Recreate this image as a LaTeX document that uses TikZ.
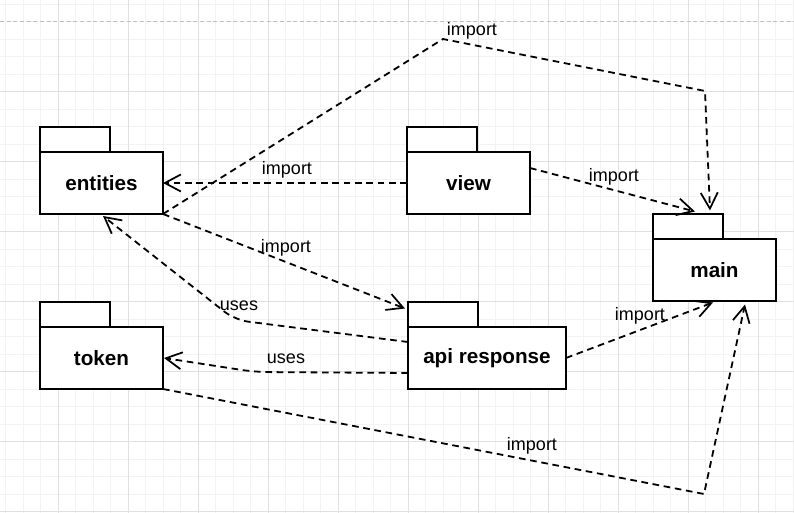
\documentclass[tikz,border=0pt]{standalone}
\usepackage{fontspec}
\setmainfont{Liberation Sans}
\usetikzlibrary{arrows.meta,calc}
\definecolor{gridminor}{HTML}{F3F3F3}
\definecolor{gridmajor}{HTML}{E0E0E0}
\definecolor{pageline}{HTML}{C0C0C0}
\begin{document}
\begin{tikzpicture}[x=0.75pt,y=-0.75pt,
  pkg/.style={draw,line width=1.5pt,fill=white,minimum height=46.5pt,inner sep=0pt,outer sep=0pt,
    font=\fontsize{15.5}{18}\selectfont\bfseries},
  pkgtab/.style={draw,line width=1.5pt,fill=white,minimum width=52.5pt,minimum height=18.75pt,
    inner sep=0pt,outer sep=0pt,anchor=south west},
  dep/.style={line width=1.35pt,dash pattern=on 5pt off 3.5pt,
    -{Straight Barb[length=12pt,width=12.75pt,line width=1.3pt]}},
  lbl/.style={font=\fontsize{13.5}{16}\selectfont,inner sep=0pt}]
\useasboundingbox (0,0) rectangle (794,513);
\fill[white] (0,0) rectangle (794,513);
% grid
\foreach \k in {0,...,45} {
  \draw[gridminor,line width=0.75pt] (5.8+17.5*\k,0) -- (5.8+17.5*\k,513);
}
\foreach \k in {0,...,29} {
  \draw[gridminor,line width=0.75pt] (0,4.5+17.5*\k) -- (794,4.5+17.5*\k);
}
\foreach \k in {0,...,11} {
  \draw[gridmajor,line width=0.75pt] (-11.7+70*\k,0) -- (-11.7+70*\k,513);
}
\foreach \k in {1,...,7} {
  \draw[gridmajor,line width=0.75pt] (0,22+70*\k) -- (794,22+70*\k);
}
\draw[pageline,line width=0.75pt,dash pattern=on 3pt off 2pt] (0,22) -- (794,22);

% packages
\node[pkg,minimum width=92.25pt] (entities) at (101.5,183) {entities};
\node[pkgtab] (entitiestab) at (entities.north west) {};
\node[pkg,minimum width=92.25pt] (view) at (468.5,183) {view};
\node[pkgtab] (viewtab) at (view.north west) {};
\node[pkg,minimum width=92.25pt] (main) at (714.5,270.5) {main};
\node[pkgtab] (maintab) at (main.north west) {};
\node[pkg,minimum width=118.5pt] (api) at (487,358) {api response};
\node[pkgtab] (apitab) at (api.north west) {};
\node[pkg,minimum width=92.25pt] (token) at (101.5,358) {token};
\node[pkgtab] (tokentab) at (token.north west) {};

% bend points
\coordinate (b1) at (443,39);
\coordinate (b2) at (705,91);
\coordinate (b3) at (235,320);
\coordinate (b4) at (255,372);
\coordinate (b5) at (704,494);

% connectors
\draw[dep] (entities.south east) -- (b1) -- (b2) -- ($(maintab.north east)+(-13,-4)$);
\draw[dep] (view.west) -- (entities.east);
\draw[dep] ($(view.east)+(0,-15)$) -- ($(maintab.north west)+(42,-3)$);
\draw[dep] (entities.south east) -- ($(apitab.west)+(-3,-6)$);
\draw[dep,rounded corners=10pt] ($(api.west)+(0,-16)$) -- (b3) -- ($(entities.south west)+(63,2)$);
\draw[dep,rounded corners=10pt] ($(api.west)+(0,15)$) -- (b4) -- ($(token.east)+(1,0)$);
\draw[dep] (token.south east) -- (b5) -- ($(main.south east)+(-31,3)$);
\draw[dep] (api.east) -- ($(main.south west)+(60,1)$);

% labels
\node[lbl] (l1) at (472,31) {import};
\node[lbl] (l2) at (287,170) {import};
\node[lbl] (l3) at (614,177) {import};
\node[lbl] (l4) at (286,248) {import};
\node[lbl] (l5) at (239,306) {uses};
\node[lbl] (l6) at (286,359) {uses};
\node[lbl] (l7) at (532,446) {import};
\node[lbl] (l8) at (640,316) {import};
\end{tikzpicture}
\end{document}
